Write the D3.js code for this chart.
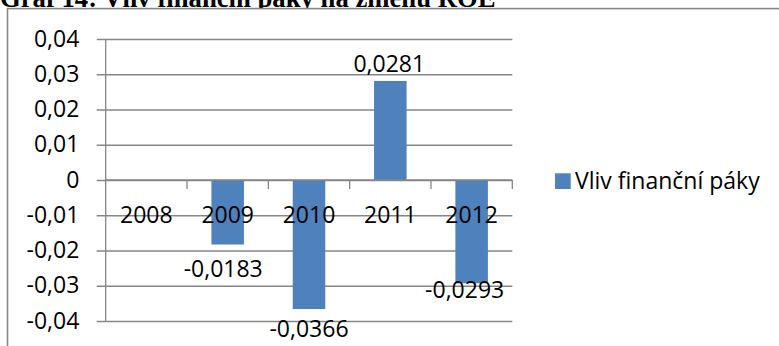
<!DOCTYPE html>
<html>
<head>
<meta charset="utf-8">
<script src="https://cdn.jsdelivr.net/npm/d3@7"></script>
<style>
  html, body { margin: 0; padding: 0; background: #fff; overflow: hidden; }
  svg { display: block; }
</style>
</head>
<body>
<svg id="chart" width="779" height="346"></svg>
<script>
// Data: effect of financial leverage on the change of ROE
const years = ["2008", "2009", "2010", "2011", "2012"];
const leverageEffect = [null, -0.0183, -0.0366, 0.0281, -0.0293];
const yTickValues = [0.04, 0.03, 0.02, 0.01, 0, -0.01, -0.02, -0.03, -0.04];
const seriesName = "Vliv finanční páky";
const caption = "Graf 14: Vliv finanční páky na změnu ROE";

// Hand-placed data labels: shift from the bar end (px)
const labelShift = {
  "2009": { dx: -4.5, dy: 32.8 },
  "2010": { dx: 0, dy: 27.7 },
  "2011": { dx: -1, dy: -9.3 },
  "2012": { dx: -7, dy: 14.7 }
};

const czLocale = d3.formatLocale({ decimal: ",", thousands: " ", grouping: [3], currency: ["", " Kč"], minus: "-" });
const tickFmt = czLocale.format(".2~f");
const valFmt = czLocale.format(".4f");

const svg = d3.select("#chart");
const font = "'Open Sans', sans-serif";
const gridColor = "#868686";
const barColor = "#4F81BD";

// Caption above the chart object (its lower part is covered by the chart frame)
svg.append("text")
  .attr("x", 0).attr("y", 7.2)
  .attr("font-family", "'Liberation Serif', 'Times New Roman', serif")
  .attr("font-weight", "bold")
  .attr("font-size", 26.7)
  .attr("fill", "#000")
  .text(caption);

// Chart frame
svg.append("rect")
  .attr("x", 7.5).attr("y", 8.6)
  .attr("width", 900).attr("height", 500)
  .attr("fill", "#fff")
  .attr("stroke", gridColor)
  .attr("stroke-width", 1.6);

const plot = { left: 105.7, right: 512.3, top: 39, bottom: 321 };

const x = d3.scaleBand().domain(years).range([plot.left, plot.right]).paddingInner(0).paddingOuter(0);
const y = d3.scaleLinear().domain([-0.04, 0.04]).range([plot.bottom, plot.top]);
const barW = x.bandwidth() * 0.4;

// Value axis with gridlines
const yAxis = d3.axisLeft(y)
  .tickValues(yTickValues)
  .tickSize(-(plot.right - plot.left))
  .tickFormat(tickFmt)
  .tickPadding(0);

const gy = svg.append("g").attr("transform", `translate(${plot.left},0)`).call(yAxis);
gy.select(".domain").remove();
gy.selectAll(".tick line")
  .attr("x1", -9)
  .attr("stroke", gridColor)
  .attr("stroke-width", 1.3);
gy.selectAll(".tick text")
  .attr("x", 79.3 - plot.left)
  .attr("dy", null)
  .attr("y", 7.2)
  .attr("text-anchor", "end")
  .attr("font-family", font)
  .attr("font-size", 23)
  .attr("fill", "#000");

// Vertical axis line
svg.append("line")
  .attr("x1", plot.left).attr("x2", plot.left)
  .attr("y1", y(0.04)).attr("y2", y(-0.04))
  .attr("stroke", gridColor).attr("stroke-width", 1.3);

// Bars
const rows = years.map((yr, i) => ({ year: yr, value: leverageEffect[i] })).filter(d => d.value !== null);

svg.append("g").selectAll("rect")
  .data(rows)
  .join("rect")
  .attr("x", d => x(d.year) + (x.bandwidth() - barW) / 2)
  .attr("width", barW)
  .attr("y", d => Math.min(y(d.value), y(0)))
  .attr("height", d => Math.abs(y(d.value) - y(0)))
  .attr("fill", barColor);

// Category axis along zero, with boundary ticks
const boundaries = years.map(yr => x(yr)).concat([x(years[years.length - 1]) + x.bandwidth()]);
svg.append("line")
  .attr("x1", plot.left).attr("x2", plot.right)
  .attr("y1", y(0)).attr("y2", y(0))
  .attr("stroke", gridColor).attr("stroke-width", 1.3);
svg.append("g").selectAll("line")
  .data(boundaries.slice(1))
  .join("line")
  .attr("x1", d => d).attr("x2", d => d)
  .attr("y1", y(0)).attr("y2", y(0) + 9)
  .attr("stroke", gridColor).attr("stroke-width", 1.3);

svg.append("g").selectAll("text")
  .data(years)
  .join("text")
  .attr("x", d => x(d) + x.bandwidth() / 2)
  .attr("y", y(0) + 43)
  .attr("text-anchor", "middle")
  .attr("font-family", font)
  .attr("font-size", 23)
  .attr("fill", "#000")
  .text(d => d);

// Data labels
svg.append("g").selectAll("text")
  .data(rows)
  .join("text")
  .attr("x", d => x(d.year) + x.bandwidth() / 2 + labelShift[d.year].dx)
  .attr("y", d => y(d.value) + labelShift[d.year].dy)
  .attr("text-anchor", "middle")
  .attr("font-family", font)
  .attr("font-size", 23)
  .attr("fill", "#000")
  .text(d => valFmt(d.value));

// Legend
const legend = svg.append("g").attr("transform", "translate(555,173.3)");
legend.append("rect")
  .attr("width", 15.7).attr("height", 15.7)
  .attr("fill", barColor);
legend.append("text")
  .attr("x", 20).attr("y", 16)
  .attr("font-family", font)
  .attr("font-size", 23)
  .attr("fill", "#000")
  .text(seriesName);
</script>
</body>
</html>
